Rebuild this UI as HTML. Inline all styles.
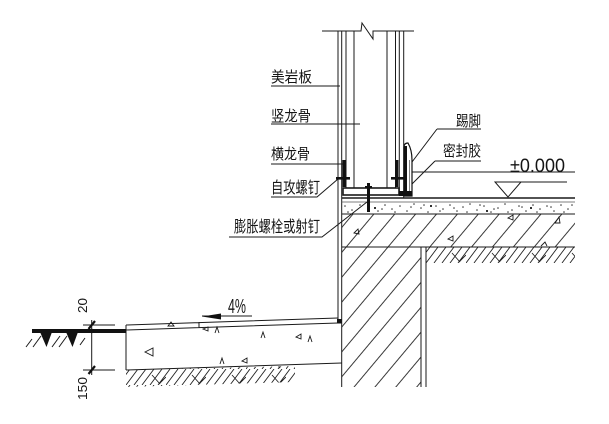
<!DOCTYPE html>
<html><head><meta charset="utf-8"><style>
html,body{margin:0;padding:0;background:#fff;}
svg{display:block;}
text{font-family:"Liberation Sans","Noto Sans CJK SC",sans-serif;fill:#151515;}
</style></head><body>
<svg width="609" height="424" viewBox="0 0 609 424" xmlns="http://www.w3.org/2000/svg">
<defs>
<pattern id="h" patternUnits="userSpaceOnUse" width="16" height="16" patternTransform="rotate(40)">
<line x1="8" y1="-1" x2="8" y2="17" stroke="#222" stroke-width="0.9"/>
</pattern>
<pattern id="e1" patternUnits="userSpaceOnUse" width="40" height="16" patternTransform="translate(426,247)">
<path d="M0,16L12,0M8,16L20,0M16,16L28,0M-8,16L4,0M24,16L36,0M32,16L44,0M26,6L34,15M33,15L40,8" stroke="#222" fill="none" stroke-width="0.9"/>
</pattern>
<pattern id="e2" patternUnits="userSpaceOnUse" width="40" height="16" patternTransform="translate(126,369)">
<path d="M0,16L12,0M8,16L20,0M16,16L28,0M-8,16L4,0M24,16L36,0M32,16L44,0M26,6L34,15M33,15L40,8" stroke="#222" fill="none" stroke-width="0.9"/>
</pattern>
<clipPath id="cw"><polygon points="342,214 575,214 575,247 421,247 421,387 342,387"/></clipPath>
</defs>

<!-- hatches -->
<rect x="330" y="200" width="260" height="200" fill="url(#h)" clip-path="url(#cw)"/>
<rect x="426" y="247" width="149" height="16" fill="url(#e1)"/>
<polygon points="126,370 295,366 295,382 126,387" fill="url(#e2)"/>

<g stroke="#1a1a1a" fill="none" stroke-width="1">
<polyline points="322,31 361,31 362,23 373,39 373,31 414,31"/>
<path d="M338,31V320 M341.7,31V387 M346,31V190 M354,31V188 M387,31V188 M395.5,31V190 M399.3,31V196 M403.7,31V198"/>
<rect x="343" y="188" width="56" height="7" stroke-width="1.6" fill="#fff"/>
<path d="M341.7,198H575" stroke-width="1.4"/>
<path d="M341.7,202H575" stroke-width="0.8" stroke="#555"/>
<path d="M341.7,214H575 M341.7,247H575 M421,247V387 M426,247V387"/>
<path d="M271,86H340 M271,124H360 M271,164H345 M271,197H317L338,179 M229,237H322L367,202"/>
<path d="M437,129H481 M437,129L412,162 M435,161H481 M435,161L411,185"/>
<path d="M412,172H575 M495,182H567"/>
<path d="M495,182L521,182L508,197Z"/>
<path d="M126,325L338,318 M126,330L338,323 M126,325V370 M126,370L341.7,363 M199,322V327.5"/>
<path d="M202,316H252"/>
<path d="M91.7,320V375 M83,325H115 M83,370H115"/>
<path d="M33,347L41,336 M52,347L60,336 M59,347L67,336 M80,345L85,338 M26,347L32,339"/>
<g stroke-width="0.9">
<path d="M145,352L153,348L153,356Z"/>
<path d="M203,329L208,327L208,331Z M215,333L217,327L219,333 M261,338L263,332L265,338 M296,337L301,334L301,339Z M308,342L310,336L312,342 M220,364L222,358L224,364 M242,361L247,358L247,363Z M168,326L171,322L174,326Z"/>
<path d="M508,218L513,215L513,220Z M555,223L559,217L560,223Z M448,239L453,236L453,241Z M541,246L545,242L547,246 M354,233L358,229L359,234Z"/>
</g>
</g>

<g fill="#111">
<rect x="342.3" y="160" width="3.4" height="27"/>
<rect x="395" y="160" width="3.4" height="27"/>
<rect x="336" y="177" width="14" height="2.6"/>
<rect x="391" y="177" width="14" height="2.6"/>
<rect x="367" y="183" width="3" height="29"/>
<rect x="365" y="186" width="7" height="2"/>
<rect x="337" y="319" width="4.5" height="4.5"/>
<polygon points="202,316.5 221,313.5 221,319.5"/>
<rect x="32" y="329" width="94" height="4"/>
<polygon points="40,332 52,332 46.5,347"/>
<polygon points="66,332 78,332 72.5,347"/>
<circle cx="91.7" cy="331" r="2.2"/>
<path d="M88.5,329L95,321" stroke="#111" stroke-width="2.2"/>
<path d="M88.5,374L95,366" stroke="#111" stroke-width="2.2"/>
</g>

<path d="M404,196V147Q404,143 408,143Q412,150 412,160V196Z" fill="#fff" stroke="#111" stroke-width="1.2"/>
<rect x="404" y="146" width="3" height="50" fill="#111"/>
<rect x="399" y="191" width="13" height="5" fill="#111"/>
<path d="M409.5,160V191" stroke="#666" stroke-width="0.8"/>

<g fill="#333">
<circle cx="345" cy="206" r="0.8"/><circle cx="352" cy="210" r="0.8"/><circle cx="360" cy="205" r="0.8"/><circle cx="378" cy="211" r="0.8"/><circle cx="385" cy="205" r="0.8"/><circle cx="392" cy="209" r="0.8"/><circle cx="400" cy="206" r="0.8"/><circle cx="407" cy="211" r="0.8"/><circle cx="414" cy="204" r="0.8"/><circle cx="421" cy="208" r="0.8"/><circle cx="428" cy="212" r="0.8"/><circle cx="436" cy="206" r="0.8"/><circle cx="443" cy="209" r="0.8"/><circle cx="450" cy="205" r="0.8"/><circle cx="457" cy="211" r="0.8"/><circle cx="463" cy="207" r="0.8"/><circle cx="470" cy="204" r="0.8"/><circle cx="477" cy="210" r="0.8"/><circle cx="484" cy="206" r="0.8"/><circle cx="491" cy="212" r="0.8"/><circle cx="498" cy="208" r="0.8"/><circle cx="505" cy="204" r="0.8"/><circle cx="512" cy="210" r="0.8"/><circle cx="519" cy="206" r="0.8"/><circle cx="526" cy="211" r="0.8"/><circle cx="533" cy="205" r="0.8"/><circle cx="540" cy="209" r="0.8"/><circle cx="547" cy="206" r="0.8"/><circle cx="554" cy="211" r="0.8"/><circle cx="561" cy="205" r="0.8"/><circle cx="568" cy="209" r="0.8"/><circle cx="348" cy="212" r="0.8"/><circle cx="382" cy="209" r="0.8"/><circle cx="395" cy="212" r="0.8"/><circle cx="411" cy="207" r="0.8"/><circle cx="424" cy="205" r="0.8"/><circle cx="440" cy="211" r="0.8"/><circle cx="454" cy="208" r="0.8"/><circle cx="467" cy="212" r="0.8"/><circle cx="480" cy="205" r="0.8"/><circle cx="494" cy="209" r="0.8"/><circle cx="508" cy="212" r="0.8"/><circle cx="522" cy="207" r="0.8"/><circle cx="537" cy="212" r="0.8"/><circle cx="551" cy="207" r="0.8"/><circle cx="564" cy="212" r="0.8"/><circle cx="572" cy="205" r="0.8"/>
<rect x="374" y="207" width="2" height="2"/><rect x="430" y="205" width="2" height="2"/><rect x="486" y="210" width="2" height="2"/><rect x="530" y="207" width="2" height="2"/>
</g>

<text x="271" y="82" font-size="15" textLength="41" lengthAdjust="spacingAndGlyphs">美岩板</text>
<text x="271" y="121" font-size="15" textLength="40" lengthAdjust="spacingAndGlyphs">竖龙骨</text>
<text x="271" y="159" font-size="15" textLength="39" lengthAdjust="spacingAndGlyphs">横龙骨</text>
<text x="271" y="193" font-size="16" textLength="49" lengthAdjust="spacingAndGlyphs">自攻螺钉</text>
<text x="234" y="232" font-size="16" textLength="86" lengthAdjust="spacingAndGlyphs">膨胀螺栓或射钉</text>
<text x="456" y="126" font-size="15" textLength="25" lengthAdjust="spacingAndGlyphs">踢脚</text>
<text x="443" y="156" font-size="15" textLength="38" lengthAdjust="spacingAndGlyphs">密封胶</text>
<text x="510" y="172" font-size="19" textLength="55" lengthAdjust="spacingAndGlyphs">±0.000</text>
<text x="228" y="313" font-size="20" textLength="18" lengthAdjust="spacingAndGlyphs">4%</text>
<text transform="translate(87,313) rotate(-90)" font-size="13" textLength="15" lengthAdjust="spacingAndGlyphs">20</text>
<text transform="translate(87,400) rotate(-90)" font-size="13" textLength="23" lengthAdjust="spacingAndGlyphs">150</text>
</svg>
</body></html>
